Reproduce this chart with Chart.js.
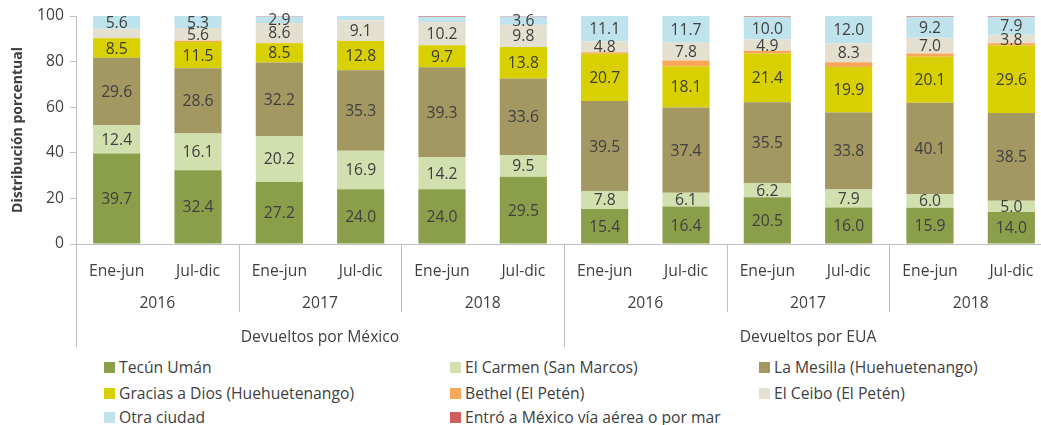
<!DOCTYPE html>
<html lang="es">
<head>
<meta charset="utf-8">
<title>Distribución porcentual por ciudad de ingreso</title>
<script src="https://cdn.jsdelivr.net/npm/chart.js@4.4.1/dist/chart.umd.min.js"></script>
<style>
  html, body { margin: 0; padding: 0; background: #fff; overflow: hidden; }
  #wrap { position: relative; width: 1041px; height: 425px; overflow: hidden; }
  #chart { position: absolute; left: 0; top: 0; }
  #legend { position: absolute; left: 0; top: 356px; width: 1041px; height: 69px;
            font-family: "Open Sans", Lato, sans-serif; font-size: 15.7px; color: #404040; }
  .item { position: absolute; display: flex; align-items: center; white-space: nowrap; height: 22px; }
  .box { width: 11px; height: 11px; margin-right: 4px; }
</style>
</head>
<body>
<div id="wrap">
  <canvas id="chart" width="1060" height="352"></canvas>
  <div id="legend"></div>
</div>
<script>
// Categories
const halfYears = ['Ene-jun', 'Jul-dic', 'Ene-jun', 'Jul-dic', 'Ene-jun', 'Jul-dic',
                   'Ene-jun', 'Jul-dic', 'Ene-jun', 'Jul-dic', 'Ene-jun', 'Jul-dic'];
const years = ['2016', '2017', '2018', '2016', '2017', '2018'];
const groups = ['Devueltos por México', 'Devueltos por EUA'];

// Series values (percent)
const tecunUman    = [39.7, 32.4, 27.2, 24.0, 24.0, 29.5, 15.4, 16.4, 20.5, 16.0, 15.9, 14.0];
const elCarmen     = [12.4, 16.1, 20.2, 16.9, 14.2,  9.5,  7.8,  6.1,  6.2,  7.9,  6.0,  5.0];
const laMesilla    = [29.6, 28.6, 32.2, 35.3, 39.3, 33.6, 39.5, 37.4, 35.5, 33.8, 40.1, 38.5];
const graciasADios = [ 8.5, 11.5,  8.5, 12.8,  9.7, 13.8, 20.7, 18.1, 21.4, 19.9, 20.1, 29.6];
const bethel       = [ 0.0,  0.5,  0.2,  0.0,  0.0,  0.0,  0.7,  2.5,  1.2,  2.1,  1.4,  0.9];
const elCeibo      = [ 4.2,  5.6,  8.6,  9.1, 10.2,  9.8,  4.8,  7.8,  4.9,  8.3,  7.0,  3.8];
const otraCiudad   = [ 5.6,  5.3,  2.9,  1.9,  2.3,  3.6, 11.1, 11.7, 10.0, 12.0,  9.2,  7.9];
const entroMexico  = [ 0.0,  0.0,  0.2,  0.0,  0.3,  0.2,  0.0,  0.0,  0.3,  0.0,  0.3,  0.3];

const yTicks = [0, 20, 40, 60, 80, 100];

const textColor = '#404040';
const axisColor = '#bfbfbf';
const fontFamily = '"Open Sans", Lato, sans-serif';
const fontSize = 15.7;

const series = [
    { label: 'Tecún Umán', data: tecunUman, color: '#8b9f4b', labels: true },
    { label: 'El Carmen (San Marcos)', data: elCarmen, color: '#d2dfae', labels: true },
    { label: 'La Mesilla (Huehuetenango)', data: laMesilla, color: '#a39762', labels: true },
    { label: 'Gracias a Dios (Huehuetenango)', data: graciasADios, color: '#d8d000', labels: true },
    { label: 'Bethel (El Petén)', data: bethel, color: '#f8a65a', labels: false },
    { label: 'El Ceibo (El Petén)', data: elCeibo, color: '#e4e0cf', labels: true },
    { label: 'Otra ciudad', data: otraCiudad, color: '#bfe3ed', labels: true },
    { label: 'Entró a México vía aérea o por mar', data: entroMexico, color: '#cf5f5b', labels: false }
];

// labels missing in the original (dataset index, bar index)
const hiddenLabels = [[5, 0]];

// Draw values in the middle of each segment
const valueLabels = {
    id: 'valueLabels',
    afterDatasetsDraw(chart) {
        const ctx = chart.ctx;
        ctx.save();
        ctx.font = fontSize + 'px ' + fontFamily;
        ctx.fillStyle = textColor;
        ctx.textAlign = 'center';
        ctx.textBaseline = 'middle';
        chart.data.datasets.forEach((ds, i) => {
            if (!series[i].labels) return;
            chart.getDatasetMeta(i).data.forEach((bar, j) => {
                const v = ds.data[j];
                if (v < 2.5) return;
                if (hiddenLabels.some(h => h[0] === i && h[1] === j)) return;
                ctx.fillText(v.toFixed(1), bar.x, (bar.y + bar.base) / 2 + 1);
            });
        });
        ctx.restore();
    }
};

// Years / groups under the half-year labels, with separators
const groupAxis = {
    id: 'groupAxis',
    afterDraw(chart) {
        const ctx = chart.ctx;
        const xs = chart.scales.x;
        const bottom = chart.chartArea.bottom;
        const half = (xs.getPixelForValue(1) - xs.getPixelForValue(0)) / 2;
        const edge = k => xs.getPixelForValue(k) - half;
        ctx.save();
        ctx.strokeStyle = axisColor;
        ctx.lineWidth = 1;
        for (let k = 0; k <= halfYears.length; k += 2) {
            const x = Math.round(edge(k)) + 0.5;
            ctx.beginPath();
            ctx.moveTo(x, bottom);
            ctx.lineTo(x, bottom + (k % 6 === 0 ? 103 : 68));
            ctx.stroke();
        }
        ctx.font = fontSize + 'px ' + fontFamily;
        ctx.fillStyle = textColor;
        ctx.textAlign = 'center';
        ctx.textBaseline = 'middle';
        years.forEach((y, i) => {
            ctx.fillText(y, (edge(i * 2) + edge(i * 2 + 2)) / 2, bottom + 60);
        });
        groups.forEach((g, i) => {
            ctx.fillText(g, (edge(i * 6) + edge(i * 6 + 6)) / 2, bottom + 94);
        });
        ctx.restore();
    }
};

const ctx = document.getElementById('chart').getContext('2d');
new Chart(ctx, {
    type: 'bar',
    data: {
        labels: halfYears,
        datasets: series.map(s => ({
            label: s.label,
            data: s.data,
            backgroundColor: s.color,
            borderWidth: 0,
            categoryPercentage: 1,
            barPercentage: 0.58
        }))
    },
    options: {
        responsive: false,
        animation: false,
        layout: { padding: { top: 16, right: 8, left: 0, bottom: 0 } },
        plugins: {
            legend: { display: false },
            tooltip: { enabled: false }
        },
        scales: {
            x: {
                stacked: true,
                grid: { display: false },
                border: { display: true, color: axisColor },
                ticks: { color: textColor, font: { family: fontFamily, size: fontSize }, padding: 10, maxRotation: 0 },
                afterFit: s => { s.height = 108; }
            },
            y: {
                stacked: true,
                min: 0,
                max: 100,
                afterBuildTicks: s => { s.ticks = yTicks.map(v => ({ value: v })); },
                grid: { drawOnChartArea: false, tickLength: 6, color: axisColor },
                border: { color: axisColor },
                ticks: { color: textColor, font: { family: fontFamily, size: fontSize }, padding: 6 },
                title: {
                    display: true,
                    text: 'Distribución porcentual',
                    color: textColor,
                    font: { family: fontFamily, size: 14, weight: 'bold' },
                    padding: { top: 10, bottom: 4 }
                },
                afterFit: s => { s.width = 76; }
            }
        }
    },
    plugins: [valueLabels, groupAxis]
});

// Legend in three columns
const legendCols = [104, 450, 759];
const legendRows = [0, 26, 50];
const legend = document.getElementById('legend');
series.forEach((s, i) => {
    const item = document.createElement('div');
    item.className = 'item';
    item.style.left = legendCols[i % 3] + 'px';
    item.style.top = legendRows[Math.floor(i / 3)] + 'px';
    item.innerHTML = `<span class="box" style="background:${s.color}"></span><span>${s.label}</span>`;
    legend.appendChild(item);
});
</script>
</body>
</html>
